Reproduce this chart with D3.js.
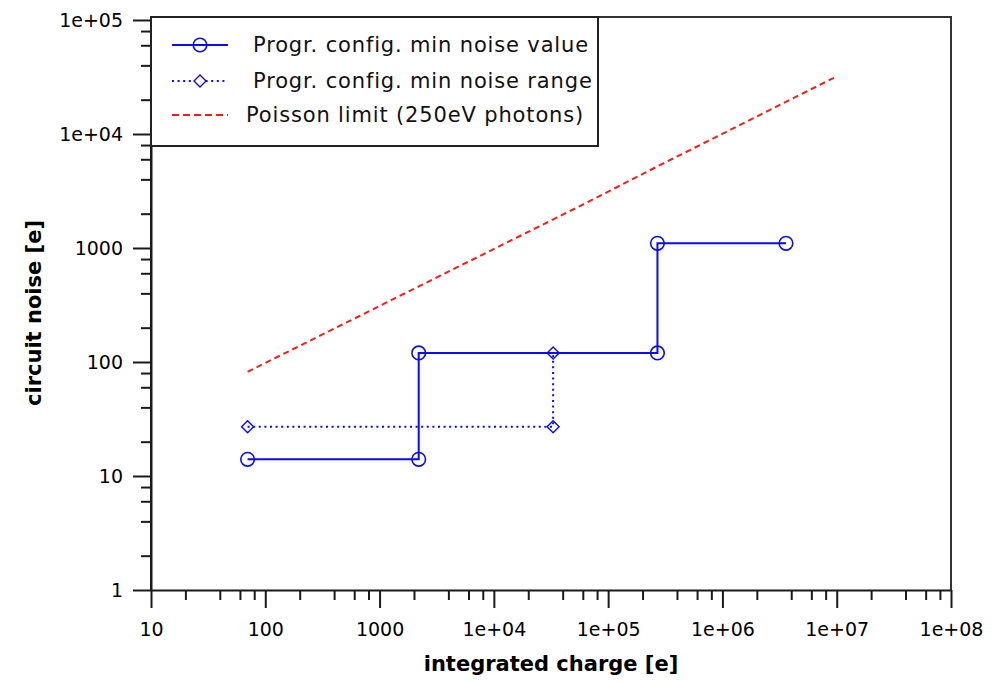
<!DOCTYPE html>
<html>
<head>
<meta charset="utf-8">
<script src="https://cdn.jsdelivr.net/npm/d3@7"></script>
<style>
  html, body { margin: 0; padding: 0; background: #ffffff; }
  svg { display: block; }
</style>
</head>
<body>
<script>
// ---------- data ----------
const xMajorTicks = [10, 100, 1000, 1e4, 1e5, 1e6, 1e7, 1e8];
const xTickLabels = ["10", "100", "1000", "1e+04", "1e+05", "1e+06", "1e+07", "1e+08"];
const yMajorTicks = [1, 10, 100, 1000, 1e4, 1e5];
const yTickLabels = ["1", "10", "100", "1000", "1e+04", "1e+05"];
const minorMultipliers = [2, 4, 6, 8];

const valueX = [70, 2200, 2200, 270000, 270000, 3.6e6];
const valueY = [14, 14, 120, 120, 1100, 1100];

const rangeX = [70, 33000, 33000];
const rangeY = [27, 27, 120];

const poissonX = [70, 2200, 60000, 270000, 1e7];
const poissonY = [82, 460, 2400, 5200, 32000];

const seriesNames = [
  "Progr. config. min noise value",
  "Progr. config. min noise range",
  "Poisson limit (250eV photons)"
];
const xTitle = "integrated charge [e]";
const yTitle = "circuit noise [e]";

// ---------- layout ----------
const W = 1006, H = 684;
const L = 151, R = 951, T = 17, B = 590;
const blue = "#0a0aff", red = "#ff1a1a", axisCol = "#1a1a1a";

const svg = d3.select("body").append("svg").attr("width", W).attr("height", H)
  .style("font-family", "'DejaVu Sans', Verdana, sans-serif");

const x = d3.scaleLog().domain([10, 1e8]).range([L, R]);
const y = d3.scaleLog().domain([1, 1e5]).range([B, 20]);

function minors(majors) {
  const out = [];
  majors.slice(0, -1).forEach(m => minorMultipliers.forEach(k => out.push(m * k)));
  return out;
}

// frame (top and right)
svg.append("path")
  .attr("d", `M${L},${T}H${R}V${B}`)
  .attr("fill", "none").attr("stroke", "#333").attr("stroke-width", 2);

// x axis
const gx = svg.append("g").attr("transform", `translate(0,${B})`);
gx.call(d3.axisBottom(x).tickValues(xMajorTicks)
  .tickFormat((d, i) => xTickLabels[i]).tickSize(18).tickSizeOuter(0).tickPadding(15));
gx.append("g").call(d3.axisBottom(x).tickValues(minors(xMajorTicks)).tickFormat("").tickSize(10))
  .select(".domain").remove();

// y axis
const gy = svg.append("g").attr("transform", `translate(${L},0)`);
gy.call(d3.axisLeft(y).tickValues(yMajorTicks)
  .tickFormat((d, i) => yTickLabels[i]).tickSize(18).tickSizeOuter(0).tickPadding(10));
gy.append("g").call(d3.axisLeft(y).tickValues(minors(yMajorTicks)).tickFormat("").tickSize(10))
  .select(".domain").remove();

[gx, gy].forEach(g => {
  g.attr("font-size", null).attr("font-family", null);
  g.selectAll(".domain").attr("stroke", axisCol).attr("stroke-width", 2);
  g.selectAll(".tick line").attr("stroke", axisCol).attr("stroke-width", 2);
  g.selectAll(".tick text").attr("fill", "#000").style("font-size", "19px");
});
// left axis line up to frame top
svg.append("line").attr("x1", L).attr("x2", L).attr("y1", T).attr("y2", B)
  .attr("stroke", axisCol).attr("stroke-width", 2);

// axis titles
svg.append("text").attr("x", (L + R) / 2).attr("y", 671).attr("text-anchor", "middle")
  .style("font-size", "21px").style("font-weight", "bold").text(xTitle);
svg.append("text").attr("transform", `translate(41,313) rotate(-90)`).attr("text-anchor", "middle")
  .style("font-size", "21px").style("font-weight", "bold").text(yTitle);

// ---------- series ----------
const line = d3.line().x(d => x(d[0])).y(d => y(d[1]));
const poissonPts = poissonX.map((v, i) => [v, poissonY[i]]);
const rangePts = rangeX.map((v, i) => [v, rangeY[i]]);
const valuePts = valueX.map((v, i) => [v, valueY[i]]);

svg.append("path").attr("d", line(poissonPts)).attr("fill", "none")
  .attr("stroke", red).attr("stroke-width", 2).attr("stroke-dasharray", "6,4");

svg.append("path").attr("d", line(rangePts)).attr("fill", "none")
  .attr("stroke", blue).attr("stroke-width", 2).attr("stroke-dasharray", "2,3.6");

svg.append("path").attr("d", line(valuePts)).attr("fill", "none")
  .attr("stroke", blue).attr("stroke-width", 2);

const diamond = (cx, cy, r) => `M${cx},${cy - r}L${cx + r},${cy}L${cx},${cy + r}L${cx - r},${cy}Z`;

svg.append("g").selectAll("path").data(rangePts).join("path")
  .attr("d", d => diamond(x(d[0]), y(d[1]), 6))
  .attr("fill", "none").attr("stroke", blue).attr("stroke-width", 1.4);

svg.append("g").selectAll("circle").data(valuePts).join("circle")
  .attr("cx", d => x(d[0])).attr("cy", d => y(d[1])).attr("r", 6.8)
  .attr("fill", "none").attr("stroke", blue).attr("stroke-width", 1.6);

// ---------- legend ----------
const lg = svg.append("g");
lg.append("rect").attr("x", L).attr("y", T).attr("width", 447).attr("height", 129)
  .attr("fill", "#fff").attr("stroke", "#222").attr("stroke-width", 2);

const rowsY = [45, 81, 115];
const textX = [253, 253, 246];
// row 1
lg.append("line").attr("x1", 172).attr("x2", 228).attr("y1", rowsY[0]).attr("y2", rowsY[0])
  .attr("stroke", blue).attr("stroke-width", 2);
lg.append("circle").attr("cx", 200).attr("cy", rowsY[0]).attr("r", 6.8)
  .attr("fill", "none").attr("stroke", blue).attr("stroke-width", 1.6);
// row 2
lg.append("line").attr("x1", 172).attr("x2", 228).attr("y1", rowsY[1]).attr("y2", rowsY[1])
  .attr("stroke", blue).attr("stroke-width", 2).attr("stroke-dasharray", "2,3.6");
lg.append("path").attr("d", diamond(200, rowsY[1], 6))
  .attr("fill", "#fff").attr("stroke", blue).attr("stroke-width", 1.4);
// row 3
lg.append("line").attr("x1", 172).attr("x2", 228).attr("y1", rowsY[2]).attr("y2", rowsY[2])
  .attr("stroke", red).attr("stroke-width", 2).attr("stroke-dasharray", "7,4");

seriesNames.forEach((s, i) => {
  lg.append("text").attr("x", textX[i]).attr("y", rowsY[i]).attr("dy", "0.35em")
    .style("font-size", "21px").style("letter-spacing", "0.85px").attr("fill", "#111").text(s);
});
</script>
</body>
</html>
